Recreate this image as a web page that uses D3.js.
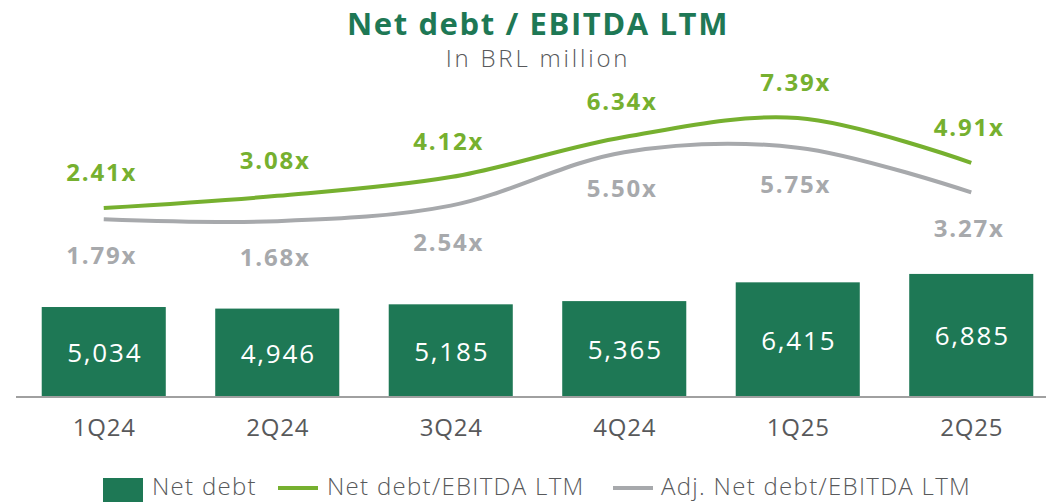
<!DOCTYPE html>
<html>
<head>
<meta charset="utf-8">
<script src="https://cdn.jsdelivr.net/npm/d3@7"></script>
<style>
    body { margin: 0; background: #fff; }
    text { font-family: "Open Sans", "Noto Sans", sans-serif; }
</style>
</head>
<body>
<svg id="chart"></svg>
<script>
var quarters = ["1Q24", "2Q24", "3Q24", "4Q24", "1Q25", "2Q25"];
var netDebt = [5034, 4946, 5185, 5365, 6415, 6885];
var leverage = [2.41, 3.08, 4.12, 6.34, 7.39, 4.91];
var adjLeverage = [1.79, 1.68, 2.54, 5.50, 5.75, 3.27];
var legendLabels = ["Net debt", "Net debt/EBITDA LTM", "Adj. Net debt/EBITDA LTM"];

const width = 1046, height = 502;
const darkGreen = "#1e7855", lightGreen = "#76b02f", gray = "#a7a9ac", textGray = "#58595b";

const svg = d3.select("#chart")
    .attr("width", width)
    .attr("height", height);

svg.append("text")
    .attr("x", 538)
    .attr("y", 35)
    .attr("text-anchor", "middle")
    .style("font-size", "31px")
    .style("font-weight", "bold")
    .style("letter-spacing", "1.6px")
    .style("fill", darkGreen)
    .text("Net debt / EBITDA LTM");

svg.append("text")
    .attr("x", 538)
    .attr("y", 67)
    .attr("text-anchor", "middle")
    .style("font-size", "24px")
    .style("font-weight", 300)
    .style("letter-spacing", "2.8px")
    .style("fill", textGray)
    .text("In BRL million");

const x = d3.scaleBand()
    .domain(quarters)
    .range([17, 1058])
    .paddingInner(0.285)
    .paddingOuter(0.1425);

const yBar = d3.scaleLinear().domain([0, 8000]).range([397, 254]);
const yLine = d3.scaleLinear().domain([0, 8]).range([251.5, 107]);

// bars
const bars = svg.append("g").selectAll("g")
    .data(netDebt)
    .join("g");

bars.append("rect")
    .attr("x", (d, i) => x(quarters[i]))
    .attr("y", d => yBar(d))
    .attr("width", x.bandwidth())
    .attr("height", d => yBar(0) - yBar(d))
    .style("fill", darkGreen);

bars.append("text")
    .attr("x", (d, i) => x(quarters[i]) + x.bandwidth() / 2 + 1)
    .attr("y", d => (yBar(d) + yBar(0)) / 2 + 10)
    .attr("text-anchor", "middle")
    .style("font-size", "26px")
    .style("letter-spacing", "1.8px")
    .style("fill", "#fff")
    .text(d => d3.format(",")(d));

// axis line
svg.append("line")
    .attr("x1", 16)
    .attr("x2", width)
    .attr("y1", yBar(0))
    .attr("y2", yBar(0))
    .style("stroke", "#a0a0a0")
    .style("stroke-width", 2);

const xAxis = svg.append("g")
    .attr("transform", `translate(0 ${yBar(0)})`)
    .call(d3.axisBottom(x).tickSize(0).tickPadding(22));
xAxis.select(".domain").remove();
xAxis.selectAll("text")
    .attr("dx", "0.4px")
    .style("font-size", "24px")
    .style("font-family", "\"Open Sans\", sans-serif")
    .style("letter-spacing", "0.8px")
    .style("fill", textGray);

// lines
const line = d3.line()
    .x((d, i) => x(quarters[i]) + x.bandwidth() / 2)
    .y(d => yLine(d))
    .curve(d3.curveCatmullRom.alpha(0.5));

const series = [
    {values: adjLeverage, color: gray, dy: 45},
    {values: leverage, color: lightGreen, dy: -27}
];

series.forEach(s => {
    svg.append("path")
        .attr("d", line(s.values))
        .style("fill", "none")
        .style("stroke", s.color)
        .style("stroke-width", 4);

    svg.append("g").selectAll("text")
        .data(s.values)
        .join("text")
        .attr("x", (d, i) => x(quarters[i]) + x.bandwidth() / 2 - 2)
        .attr("y", d => yLine(d) + s.dy)
        .attr("text-anchor", "middle")
        .style("font-size", "24px")
        .style("font-weight", "bold")
        .style("letter-spacing", "1.8px")
        .style("fill", s.color)
        .text(d => d.toFixed(2) + "x");
});

// legend
const legend = svg.append("g").attr("transform", "translate(0 495)");

function legendText(xPos, label) {
    legend.append("text")
        .attr("x", xPos).attr("y", 0)
        .style("font-size", "24px")
        .style("font-weight", 300)
        .style("letter-spacing", "1.3px")
        .style("fill", textGray)
        .text(label);
}

legend.append("rect")
    .attr("x", 103).attr("y", -17)
    .attr("width", 40).attr("height", 26)
    .style("fill", darkGreen);
legendText(152, legendLabels[0]);

legend.append("line")
    .attr("x1", 278).attr("x2", 318).attr("y1", -7).attr("y2", -7)
    .style("stroke", lightGreen).style("stroke-width", 4);
legendText(327, legendLabels[1]);

legend.append("line")
    .attr("x1", 613).attr("x2", 653).attr("y1", -7).attr("y2", -7)
    .style("stroke", gray).style("stroke-width", 4);
legendText(661, legendLabels[2]);
</script>
</body>
</html>
